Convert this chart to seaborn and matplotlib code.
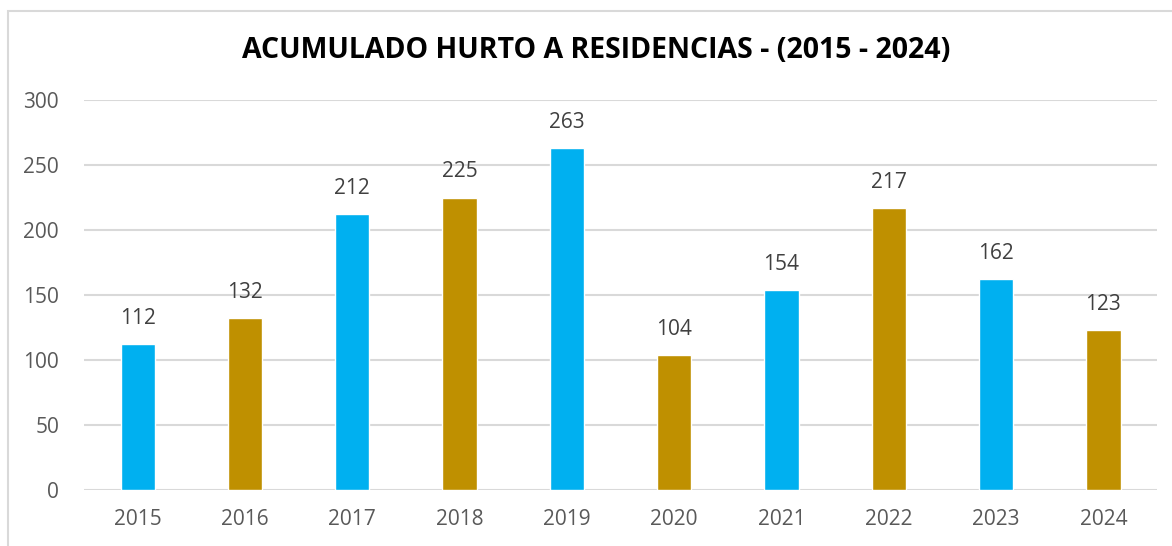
import pandas as pd
import seaborn as sns
from matplotlib import pyplot as plt
from matplotlib.patches import Rectangle

years = ['2015', '2016', '2017', '2018', '2019', '2020', '2021', '2022', '2023', '2024']
values = [112, 132, 212, 225, 263, 104, 154, 217, 162, 123]
bar_colors = ['#00B0F0', '#BF9000', '#00B0F0', '#BF9000', '#00B0F0',
              '#BF9000', '#00B0F0', '#BF9000', '#00B0F0', '#BF9000']

df = pd.DataFrame({'year': years, 'value': values})

sns.set_style('white')
plt.rcParams['font.family'] = ['Open Sans', 'DejaVu Sans']

fig = plt.figure(figsize=(11.72, 5.46), dpi=100)
ax = fig.add_axes([0.0717, 0.1026, 0.9155, 0.7142])

sns.barplot(data=df, x='year', y='value', hue='year', palette=bar_colors,
            width=0.32, legend=False, ax=ax, saturation=1)

ax.set_ylim(0, 300)
ax.set_xlim(-0.5, 9.5)
ax.set_yticks(range(0, 301, 50))
ax.yaxis.grid(True, color='#D9D9D9', linewidth=1.5)
ax.set_axisbelow(True)
for s in ax.spines.values():
    s.set_visible(False)
ax.tick_params(axis='both', length=0, labelsize=15, labelcolor='#595959')
ax.tick_params(axis='y', pad=18)
ax.tick_params(axis='x', pad=14)
ax.set_xlabel('')
ax.set_ylabel('')

for i, v in enumerate(values):
    ax.annotate(str(v), (i, v), xytext=(0, 11), textcoords='offset points',
                ha='center', va='bottom', fontsize=15, color='#404040')

fig.text(0.509, 0.908, 'ACUMULADO HURTO A RESIDENCIAS - (2015 - 2024)',
         ha='center', va='center', fontsize=20.5, fontweight='bold', color='black')

# chart frame
fig.patches.append(Rectangle((0.0068, -0.05), 1.1, 1.03, transform=fig.transFigure,
                             fill=False, edgecolor='#D9D9D9', linewidth=1.5))

fig.savefig('out.png', dpi=100)
